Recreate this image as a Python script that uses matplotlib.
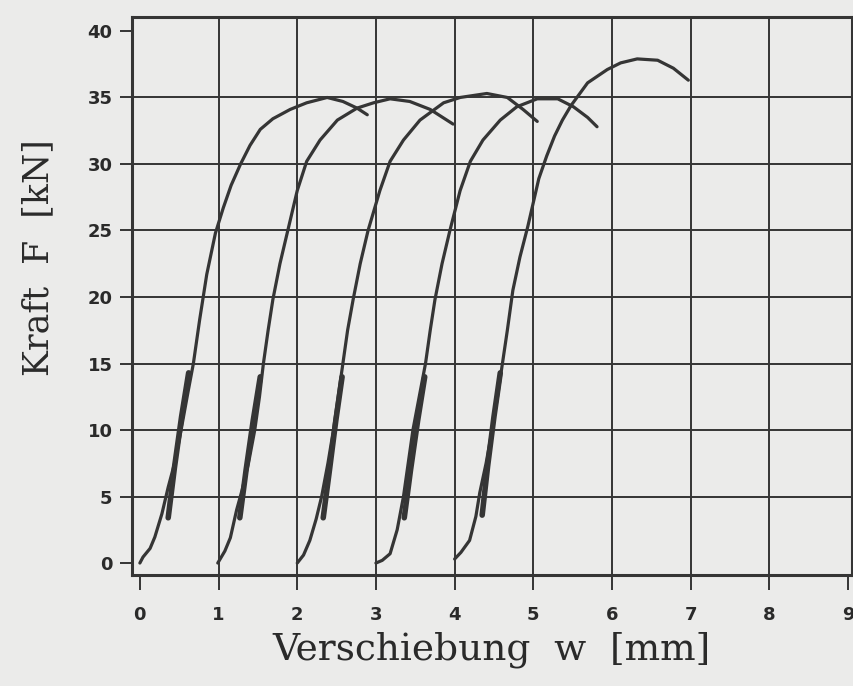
import matplotlib
matplotlib.use('Agg')
import matplotlib.pyplot as plt

ink = '#353535'
paper = '#ebebea'

# Kraft-Verschiebungs-Kurven (w in mm, F in kN)
w1 = [0, 0.04, 0.13, 0.19, 0.28, 0.36, 0.45, 0.53, 0.61, 0.68, 0.76, 0.85, 0.96, 1.06, 1.16, 1.28, 1.40,
      1.53, 1.69, 1.91, 2.12, 2.38, 2.58, 2.76, 2.89]
F1 = [0, 0.45, 1.1, 1.95, 3.7, 5.7, 7.7, 10.2, 12.8, 15.0, 18.3, 21.7, 24.8, 26.7, 28.4, 30.0, 31.4,
      32.6, 33.4, 34.1, 34.6, 35.0, 34.7, 34.2, 33.7]

w2 = [0.99, 1.08, 1.15, 1.23, 1.30, 1.38, 1.46, 1.52, 1.57, 1.63, 1.69, 1.78, 1.88, 2.0, 2.12, 2.29,
      2.51, 2.76, 2.97, 3.18, 3.43, 3.69, 3.98]
F2 = [0, 0.9, 1.9, 4.0, 5.5, 7.5, 10.0, 12.5, 15.0, 17.5, 19.8, 22.5, 25.0, 28.0, 30.2, 31.8,
      33.3, 34.2, 34.6, 34.9, 34.7, 34.1, 33.0]

w3 = [2.0, 2.08, 2.16, 2.24, 2.31, 2.39, 2.46, 2.52, 2.58, 2.64, 2.71, 2.80, 2.90, 3.05, 3.18, 3.35,
      3.56, 3.86, 4.07, 4.41, 4.67, 4.87, 5.05]
F3 = [0, 0.6, 1.7, 3.3, 5.0, 7.5, 10.0, 12.5, 15.0, 17.5, 19.8, 22.5, 25.0, 28.0, 30.2, 31.8,
      33.3, 34.6, 35.0, 35.3, 35.0, 34.1, 33.2]

w4 = [3.0, 3.08, 3.18, 3.27, 3.35, 3.41, 3.47, 3.55, 3.63, 3.69, 3.75, 3.84, 3.94, 4.07, 4.20, 4.36,
      4.58, 4.79, 5.05, 5.31, 5.51, 5.69, 5.81]
F4 = [0, 0.2, 0.7, 2.5, 5.0, 7.5, 10.0, 12.5, 15.0, 17.5, 19.8, 22.5, 25.0, 28.0, 30.2, 31.8,
      33.3, 34.3, 34.9, 34.9, 34.3, 33.5, 32.8]

w5 = [4.0, 4.08, 4.19, 4.27, 4.32, 4.40, 4.47, 4.54, 4.60, 4.67, 4.74, 4.83, 4.93, 5.0, 5.07, 5.17,
      5.27, 5.37, 5.48, 5.69, 5.94, 6.11, 6.32, 6.58, 6.78, 6.97]
F5 = [0.3, 0.8, 1.7, 3.5, 5.3, 7.5, 9.8, 12.3, 14.7, 17.5, 20.5, 23.0, 25.3, 27.1, 28.9, 30.6,
      32.1, 33.3, 34.4, 36.1, 37.1, 37.6, 37.9, 37.8, 37.2, 36.3]

curves = [(w1, F1), (w2, F2), (w3, F3), (w4, F4), (w5, F5)]

# Ent- und Wiederbelastungsschleifen
loops_w = [[0.36, 0.44, 0.53, 0.62], [1.27, 1.35, 1.44, 1.53], [2.33, 2.41, 2.49, 2.57],
           [3.36, 3.44, 3.53, 3.62], [4.35, 4.42, 4.50, 4.58]]
loops_F = [[3.4, 7.2, 11.0, 14.3], [3.4, 7.0, 10.7, 14.0], [3.4, 7.0, 10.7, 14.0],
           [3.4, 7.0, 10.7, 14.0], [3.6, 7.3, 11.0, 14.3]]

fig = plt.figure(figsize=(8.54, 6.86), dpi=100, facecolor=paper)
ax = fig.add_axes([132/854, 1 - 575/686, 720/854, 558/686], facecolor=paper)

for x in range(1, 9):
    ax.axvline(x, color=ink, lw=1.4, zorder=1)
for y in range(5, 40, 5):
    ax.axhline(y, color=ink, lw=1.4, zorder=1)

for w, F in curves:
    ax.plot(w, F, color=ink, lw=2.3, solid_capstyle='round', solid_joinstyle='round', zorder=3)
for w, F in zip(loops_w, loops_F):
    ax.plot(w, F, color=ink, lw=4.0, solid_capstyle='round', zorder=3)

ax.set_xlim(-0.1, 9.05)
ax.set_ylim(-0.9, 41.05)
ax.set_xticks(range(0, 10))
ax.set_yticks(range(0, 41, 5))
for s in ax.spines.values():
    s.set_linewidth(2.2)
    s.set_color(ink)
ax.tick_params(axis='x', direction='out', length=11, width=1.4, color=ink, pad=11)
ax.tick_params(axis='y', direction='out', length=9, width=1.4, color=ink, pad=5)
for lab in ax.get_xticklabels() + ax.get_yticklabels():
    lab.set_fontweight('bold')
    lab.set_fontsize(13)
    lab.set_color('#2a2a2a')

fig.text(38/854, 1 - 258/686, 'Kraft  F  [kN]', rotation=90, ha='center', va='center',
         family='DejaVu Serif', fontsize=25, color='#2a2a2a')
fig.text(492/854, 1 - 650/686, 'Verschiebung  w  [mm]', ha='center', va='center',
         family='DejaVu Serif', fontsize=27, color='#2a2a2a')

fig.savefig('out.png', dpi=100, facecolor=paper)
